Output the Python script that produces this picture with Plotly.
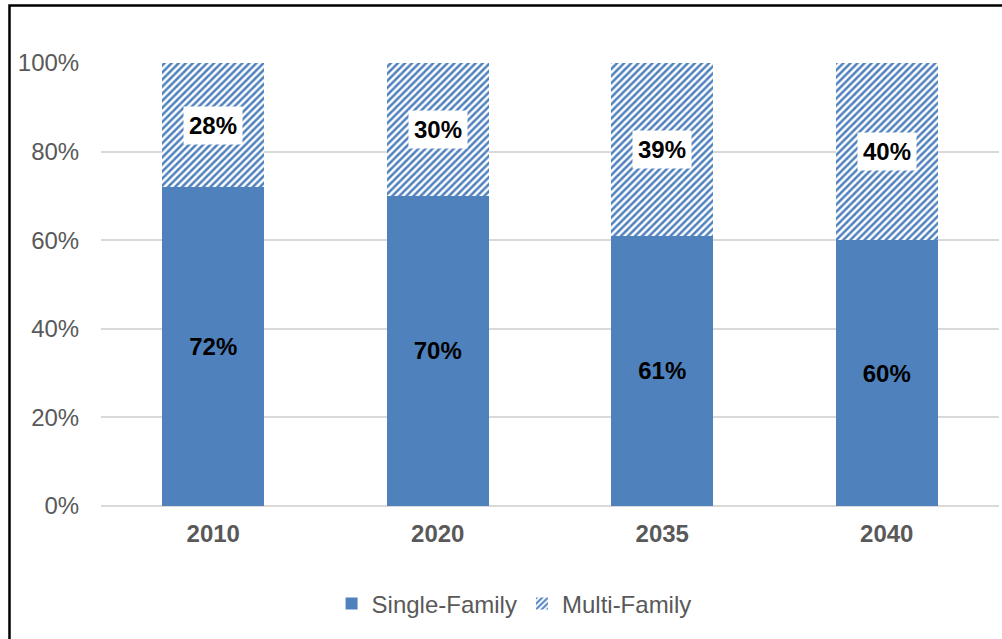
import plotly.graph_objects as go

years = ["2010", "2020", "2035", "2040"]
single_family = [0.72, 0.70, 0.61, 0.60]
multi_family = [0.28, 0.30, 0.39, 0.40]
series_names = ["Single-Family", "Multi-Family"]

BLUE = "#4F81BD"
GRAY = "#595959"
FONT = "Liberation Sans, Arial, sans-serif"

xpos = list(range(len(years)))

fig = go.Figure()
fig.add_trace(go.Bar(
    x=xpos, y=single_family, name=series_names[0],
    marker=dict(color=BLUE, line=dict(width=0)),
    text=[f"{v*100:.0f}%" for v in single_family],
    textposition="inside", insidetextanchor="middle",
    textfont=dict(family=FONT, size=24, color="black"),
    texttemplate="<b>%{text}</b>",
    width=[0.455] * len(years),
))
fig.add_trace(go.Bar(
    x=xpos, y=multi_family, name=series_names[1],
    marker=dict(color="white", line=dict(width=0),
                pattern=dict(shape="/", fgcolor=BLUE, bgcolor="white", fgopacity=1,
                             size=5, solidity=0.5, fillmode="overlay")),
    width=[0.455] * len(years),
))

for xi, s, m in zip(xpos, single_family, multi_family):
    fig.add_annotation(
        x=xi, y=s + m / 2, text=f"<b>{m*100:.0f}%</b>", showarrow=False,
        font=dict(family=FONT, size=24, color="black"),
        bgcolor="white", borderpad=5,
    )

fig.update_layout(
    barmode="stack",
    width=1002, height=639,
    margin=dict(l=101, r=3, t=63, b=133),
    paper_bgcolor="white", plot_bgcolor="white",
    font=dict(family=FONT, color=GRAY),
    showlegend=True,
    legend=dict(orientation="h", x=0.46, xanchor="center", y=-0.221, yanchor="middle",
                font=dict(family=FONT, size=24, color=GRAY), traceorder="normal",
                itemwidth=30),
    xaxis=dict(range=[-0.5, len(years) - 0.5], tickmode="array", tickvals=xpos,
               ticktext=[f"<b>{y}</b>" for y in years],
               tickfont=dict(family=FONT, size=24, color=GRAY),
               showgrid=False, showline=False, zeroline=False, ticks="outside",
               ticklen=6, tickcolor="rgba(0,0,0,0)"),
    yaxis=dict(range=[0, 1], tickformat=".0%", dtick=0.2,
               tickfont=dict(family=FONT, size=24, color=GRAY),
               showgrid=True, gridcolor="#D9D9D9", gridwidth=1.5,
               zeroline=True, zerolinecolor="#D9D9D9", zerolinewidth=1.5,
               showline=False, ticks="outside", ticklen=16, tickcolor="rgba(0,0,0,0)"),
    shapes=[dict(type="rect", xref="paper", yref="paper",
                 x0=-0.1019, x1=1.2, y0=-0.5, y1=1.1298,
                 line=dict(color="black", width=2.5), fillcolor="rgba(0,0,0,0)", layer="above")],
)

fig.write_html("out.html", config={"displayModeBar": False},
               post_script="document.body.style.margin='0';document.body.style.overflow='hidden';")
